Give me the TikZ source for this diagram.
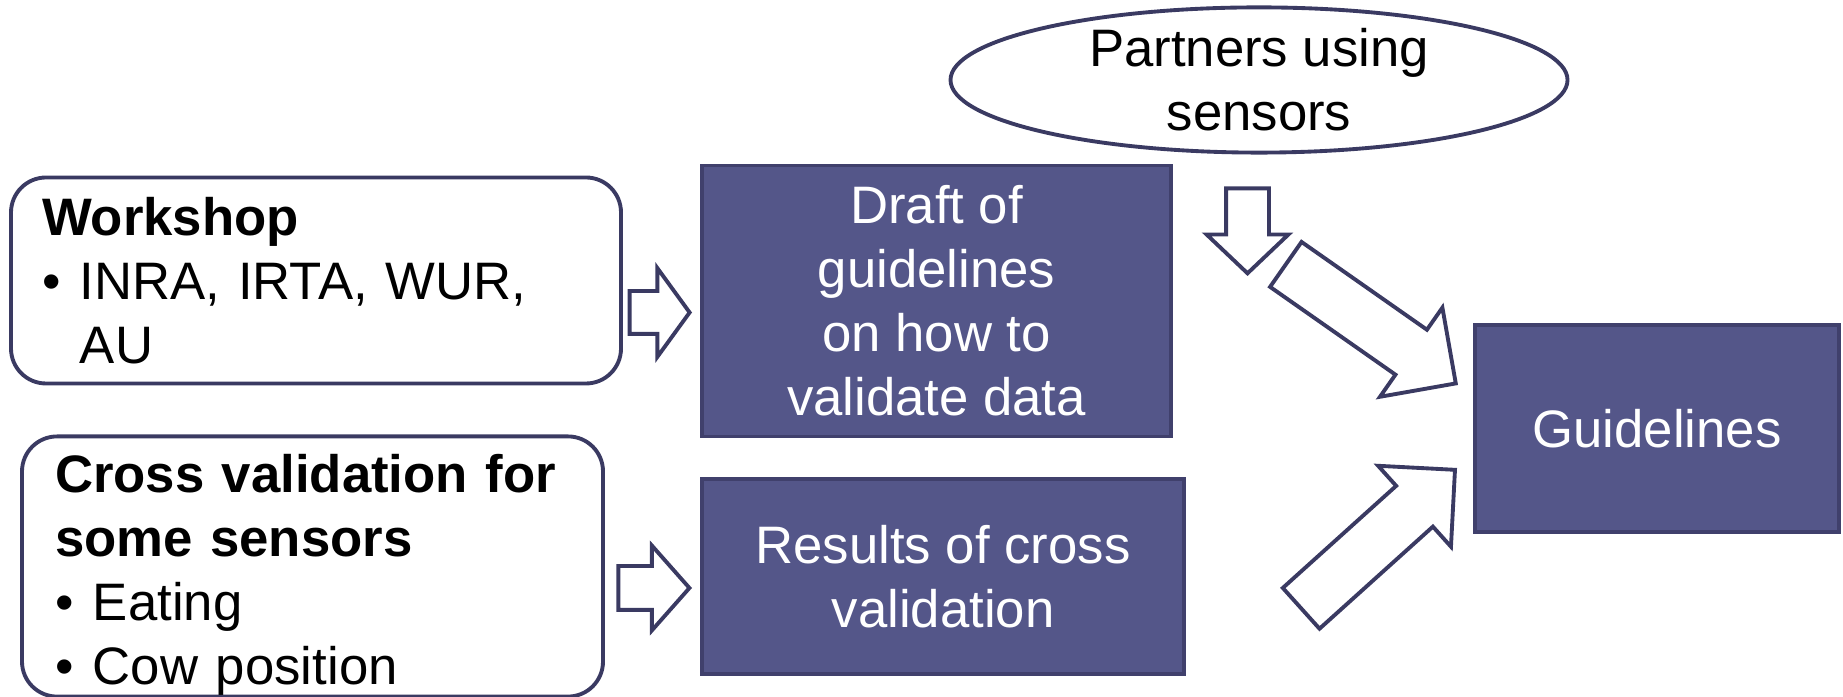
\documentclass[tikz,border=0pt]{standalone}
\usepackage{fontspec}
\setmainfont{Liberation Sans}
\usepackage{tikz}
\usetikzlibrary{shapes.geometric,shapes.arrows,positioning}
\definecolor{boxfill}{RGB}{84,86,137}
\definecolor{boxline}{RGB}{64,64,108}
\definecolor{arrline}{RGB}{58,58,98}
\newcommand\boxfont{\fontsize{15}{18.2}\selectfont}
\newcommand\itembul{\makebox[0.72em][l]{\textbullet}}
\tikzstyle{bluebox} = [rectangle, draw=boxline, fill=boxfill, line width=1.1pt, text=white, align=center]
\tikzstyle{roundbox} = [rectangle, rounded corners=0.35cm, draw=arrline, fill=white, line width=1.1pt, align=left, inner xsep=0pt]
\tikzstyle{blockarrow} = [single arrow, draw=arrline, fill=white, line width=1.1pt, inner xsep=0pt, single arrow tip angle=90, anchor=tip]

\begin{document}
\begin{tikzpicture}[font=\boxfont]
\useasboundingbox (0,0) rectangle (18.43,-6.97);
% Inputs
\node[roundbox, minimum width=6.10cm, minimum height=2.06cm, text width=5.48cm] (workshop) at (3.16,-2.805) {
\textbf{Workshop}\\
\itembul INRA, IRTA, WUR,\\
\hspace*{0.72em}AU
};
\node[roundbox, minimum width=5.81cm, minimum height=2.57cm, text width=5.15cm] (crossval) at (3.125,-5.665) {
\rule{0pt}{0.85em}\textbf{Cross validation for}\\
\textbf{some sensors}\\
\itembul Eating\\
\smash{\itembul Cow position}
};
\node[ellipse, draw=arrline, line width=1.1pt, minimum width=6.17cm, minimum height=1.35cm, inner sep=0pt, align=center] (partners) at (12.59,-0.80) {
Partners using\\sensors
};
% Results
\node[bluebox, minimum width=4.69cm, minimum height=2.71cm] (draft) at (9.365,-3.01) {
Draft of\\guidelines\\on how to\\validate data
};
\node[bluebox, minimum width=4.82cm, minimum height=1.95cm] (results) at (9.43,-5.765) {
Results of cross\\validation
};
\node[bluebox, minimum width=3.64cm, minimum height=2.07cm] (guide) at (16.57,-4.285) {Guidelines};
% Block arrows
\node[blockarrow, minimum height=0.60cm, inner ysep=0.195cm, single arrow head extend=0.23cm, single arrow tip angle=108] (arrwork) at (6.92,-3.125) {};
\node[blockarrow, minimum height=0.71cm, inner ysep=0.20cm, single arrow head extend=0.205cm, single arrow tip angle=97] (arrcross) at (6.92,-5.88) {};
\node[blockarrow, rotate=-90, minimum height=0.85cm, inner ysep=0.195cm, single arrow head extend=0.195cm, single arrow tip angle=93] (arrpart) at (12.475,-2.76) {};
\node[blockarrow, rotate=-35, minimum height=2.075cm, inner ysep=0.255cm, single arrow head extend=0.27cm] (arrdraft) at (14.58,-3.85) {};
\node[blockarrow, rotate=42, minimum height=2.07cm, inner ysep=0.255cm, single arrow head extend=0.27cm] (arrres) at (14.57,-4.68) {};
\end{tikzpicture}
\end{document}
